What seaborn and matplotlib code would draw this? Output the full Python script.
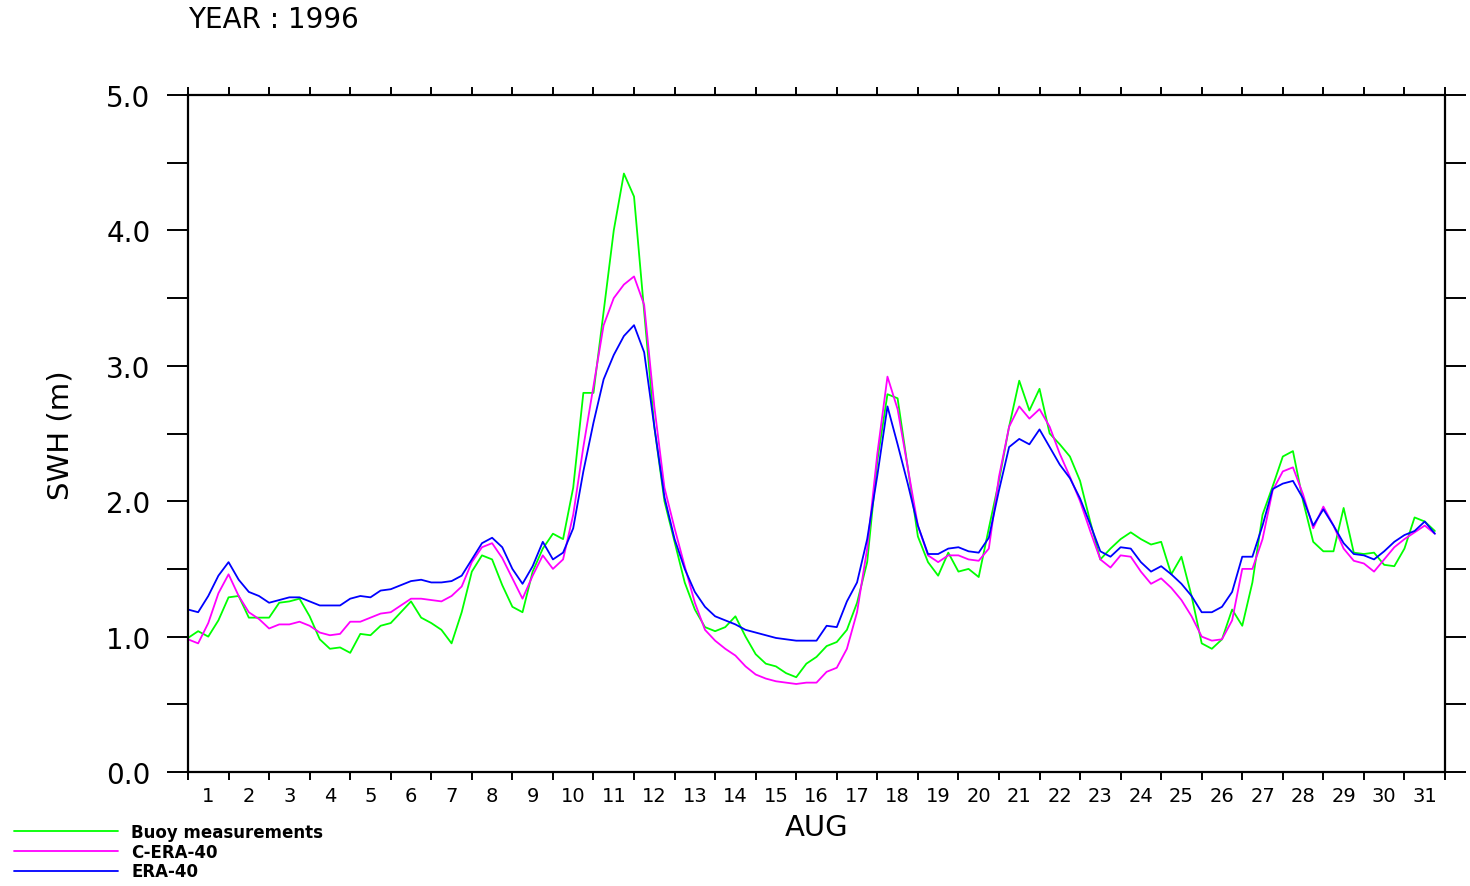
import numpy as np
import pandas as pd
import matplotlib
matplotlib.use("Agg")
import matplotlib.pyplot as plt
import seaborn as sns

# 6-hourly time in days since 1 Aug 00:00
steps_per_day = 4
buoy = [0.99, 1.04, 1.00, 1.12, 1.29, 1.30, 1.14, 1.14, 1.14, 1.25, 1.26, 1.28, 1.15, 0.98, 0.91, 0.92,
        0.88, 1.02, 1.01, 1.08, 1.10, 1.18, 1.26, 1.14, 1.10, 1.05, 0.95, 1.18, 1.48, 1.60, 1.57, 1.38,
        1.22, 1.18, 1.48, 1.65, 1.76, 1.72, 2.10, 2.80, 2.80, 3.40, 4.00, 4.42, 4.25, 3.40, 2.55, 2.00,
        1.70, 1.40, 1.20, 1.07, 1.04, 1.07, 1.15, 1.00, 0.87, 0.80, 0.78, 0.73, 0.70, 0.80, 0.85, 0.93,
        0.96, 1.05, 1.25, 1.55, 2.30, 2.79, 2.76, 2.25, 1.74, 1.55, 1.45, 1.62, 1.48, 1.50, 1.44, 1.80,
        2.15, 2.55, 2.89, 2.67, 2.83, 2.50, 2.42, 2.33, 2.15, 1.85, 1.57, 1.65, 1.72, 1.77, 1.72, 1.68,
        1.70, 1.46, 1.59, 1.30, 0.95, 0.91, 0.98, 1.20, 1.08, 1.40, 1.90, 2.11, 2.33, 2.37, 2.00, 1.70,
        1.63, 1.63, 1.95, 1.62, 1.61, 1.62, 1.53, 1.52, 1.65, 1.88, 1.85, 1.78]
c_era40 = [0.98, 0.95, 1.10, 1.32, 1.46, 1.30, 1.18, 1.13, 1.06, 1.09, 1.09, 1.11, 1.08, 1.03, 1.01, 1.02,
           1.11, 1.11, 1.14, 1.17, 1.18, 1.23, 1.28, 1.28, 1.27, 1.26, 1.30, 1.37, 1.55, 1.66, 1.69, 1.58,
           1.43, 1.28, 1.45, 1.60, 1.50, 1.57, 1.90, 2.40, 2.85, 3.30, 3.50, 3.60, 3.66, 3.45, 2.70, 2.10,
           1.80, 1.52, 1.25, 1.05, 0.97, 0.91, 0.86, 0.78, 0.72, 0.69, 0.67, 0.66, 0.65, 0.66, 0.66, 0.74,
           0.77, 0.91, 1.18, 1.65, 2.35, 2.92, 2.68, 2.25, 1.82, 1.60, 1.55, 1.60, 1.60, 1.57, 1.56, 1.65,
           2.18, 2.55, 2.70, 2.61, 2.68, 2.55, 2.35, 2.18, 2.00, 1.78, 1.57, 1.51, 1.60, 1.59, 1.48, 1.39,
           1.43, 1.36, 1.27, 1.15, 1.00, 0.97, 0.98, 1.12, 1.50, 1.50, 1.72, 2.08, 2.22, 2.25, 2.05, 1.80,
           1.96, 1.82, 1.65, 1.56, 1.54, 1.48, 1.57, 1.66, 1.72, 1.77, 1.82, 1.76]
era40 = [1.20, 1.18, 1.30, 1.45, 1.55, 1.42, 1.33, 1.30, 1.25, 1.27, 1.29, 1.29, 1.26, 1.23, 1.23, 1.23,
         1.28, 1.30, 1.29, 1.34, 1.35, 1.38, 1.41, 1.42, 1.40, 1.40, 1.41, 1.45, 1.57, 1.69, 1.73, 1.66,
         1.50, 1.39, 1.52, 1.70, 1.57, 1.62, 1.80, 2.22, 2.58, 2.90, 3.08, 3.22, 3.30, 3.10, 2.55, 2.03,
         1.72, 1.50, 1.33, 1.22, 1.15, 1.12, 1.09, 1.05, 1.03, 1.01, 0.99, 0.98, 0.97, 0.97, 0.97, 1.08,
         1.07, 1.26, 1.40, 1.72, 2.19, 2.70, 2.42, 2.13, 1.82, 1.61, 1.61, 1.65, 1.66, 1.63, 1.62, 1.73,
         2.08, 2.40, 2.46, 2.42, 2.53, 2.40, 2.27, 2.17, 2.02, 1.83, 1.63, 1.59, 1.66, 1.65, 1.55, 1.48,
         1.52, 1.46, 1.39, 1.30, 1.18, 1.18, 1.22, 1.33, 1.59, 1.59, 1.82, 2.09, 2.13, 2.15, 2.02, 1.82,
         1.94, 1.82, 1.69, 1.61, 1.60, 1.57, 1.63, 1.70, 1.75, 1.78, 1.85, 1.76]

series_names = ["Buoy measurements", "C-ERA-40", "ERA-40"]
colors = ["#00ff00", "#ff00ff", "#0000ff"]
day_labels = [str(d) for d in range(1, 32)]
y_tick_labels = ["0.0", "1.0", "2.0", "3.0", "4.0", "5.0"]

n = len(era40)
t = np.arange(n) / steps_per_day
df = pd.concat([
    pd.DataFrame({"t": t, "swh": vals, "series": name})
    for name, vals in zip(series_names, [buoy, c_era40, era40])
])

sns.set_style("white")
plt.rcParams["font.family"] = ["DejaVu Sans"]
for key in ["text.color", "axes.labelcolor", "xtick.color", "ytick.color"]:
    plt.rcParams[key] = "black"

fig = plt.figure(figsize=(14.7, 8.87), dpi=100)
ax = fig.add_axes([188 / 1470, 1 - 773 / 887, (1445 - 188) / 1470, (773 - 96) / 887])

sns.lineplot(data=df, x="t", y="swh", hue="series", hue_order=series_names,
             palette=colors, linewidth=1.3, ax=ax, legend=False)

ax.set_xlim(0, 31)
ax.set_ylim(0, 5)
for s in ax.spines.values():
    s.set_linewidth(1.6)
    s.set_color("black")

# x: major ticks at day boundaries (outward, top and bottom), labels at day centers
ax.set_xticks(np.arange(0, 32))
ax.set_xticklabels([])
ax.set_xticks(np.arange(31) + 0.5, minor=True)
ax.set_xticklabels(day_labels, minor=True, fontsize=14)
ax.tick_params(axis="x", which="major", direction="out", length=6, width=1.4,
               top=True, bottom=True, color="black")
ax.tick_params(axis="x", which="minor", length=0, pad=10)

# y: ticks every 0.5, labels at integers, outward on both sides
ax.set_yticks(np.arange(0, 5.01, 1.0))
ax.set_yticklabels(y_tick_labels, fontsize=20)
ax.set_yticks(np.arange(0.5, 5, 1.0), minor=True)
ax.tick_params(axis="y", which="both", direction="out", length=15, width=1.4,
               left=True, right=True, color="black", pad=12)

ax.set_xlabel("AUG", fontsize=21, labelpad=6)
ax.set_ylabel("SWH (m)", fontsize=21)
ax.yaxis.set_label_coords((75 - 188) / (1445 - 188), (773 - 435) / (773 - 96))

fig.text(188 / 1470, 1 - 20 / 887, "YEAR : 1996", fontsize=20, ha="left", va="center")

handles = [plt.Line2D([], [], color=c, linewidth=1.3) for c in colors]
fig.legend(handles, series_names, loc="upper left", bbox_to_anchor=(0.003, 1 - 814 / 887),
           frameon=False, handlelength=6.2, handletextpad=0.8, borderpad=0.2,
           labelspacing=0.1, borderaxespad=0.4, prop={"weight": "bold", "size": 12})

fig.savefig("out.png", dpi=100, facecolor="white")
